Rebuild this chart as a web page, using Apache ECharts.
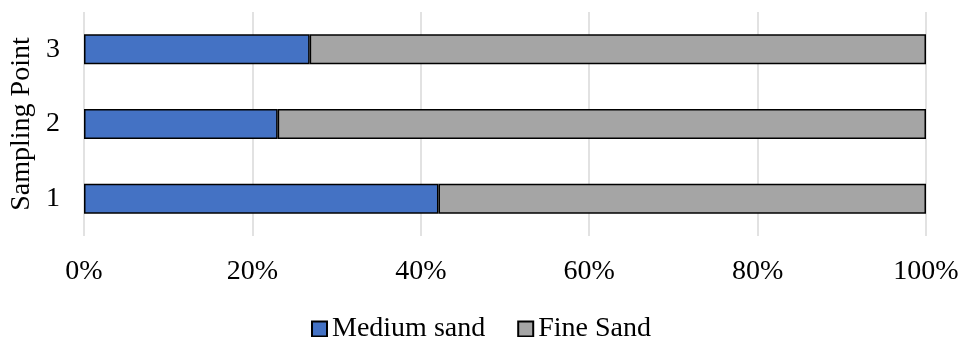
<!DOCTYPE html>
<html>
<head>
<meta charset="utf-8">
<script src="https://cdn.jsdelivr.net/npm/echarts@6/dist/echarts.min.js"></script>
<style>
  html, body { margin: 0; padding: 0; background: #fff; }
  #chart { width: 962px; height: 337px; }
</style>
</head>
<body>
<div id="chart"></div>
<script>
// Sampling points (bottom to top) and sand fractions in percent
const samplingPoints = ['1', '2', '3'];
const mediumSand = [42.1, 23.0, 26.8];
const fineSand = [57.9, 77.0, 73.2];
const xTicks = [0, 20, 40, 60, 80, 100];

const FONT = '"Liberation Serif", "Times New Roman", serif';

const chart = echarts.init(document.getElementById('chart'), null, { renderer: 'canvas' });

chart.setOption({
  animation: false,
  backgroundColor: '#ffffff',
  grid: { left: 84, right: 36, top: 12, bottom: 101, containLabel: false, outerBoundsMode: 'none' },
  legend: {
    bottom: -11,
    left: 'center',
    icon: 'rect',
    itemWidth: 15,
    itemHeight: 15,
    itemGap: 32,
    itemTextGap: 4,
    textStyle: { fontFamily: FONT, fontSize: 28, color: '#000' },
    data: ['Medium sand', 'Fine Sand']
  },
  xAxis: {
    type: 'value',
    min: xTicks[0],
    max: xTicks[xTicks.length - 1],
    interval: 20,
    axisLine: { show: false },
    axisTick: { show: false },
    splitLine: { show: true, lineStyle: { color: '#d9d9d9', width: 1.5 } },
    axisLabel: {
      fontFamily: FONT, fontSize: 28, color: '#000', margin: 22,
      formatter: v => v + '%'
    }
  },
  yAxis: {
    type: 'category',
    data: samplingPoints,
    name: 'Sampling Point',
    nameLocation: 'middle',
    nameRotate: 90,
    nameGap: 48,
    nameMoveOverlap: false,
    nameTextStyle: { fontFamily: FONT, fontSize: 28, color: '#000' },
    axisLine: { show: false },
    axisTick: { show: false },
    axisLabel: { fontFamily: FONT, fontSize: 28, color: '#000', margin: 24 }
  },
  series: [
    {
      name: 'Medium sand',
      type: 'bar',
      stack: 'total',
      data: mediumSand,
      barWidth: 30,
      itemStyle: { color: '#4472C4', borderColor: '#000', borderWidth: 1.5 }
    },
    {
      name: 'Fine Sand',
      type: 'bar',
      stack: 'total',
      data: fineSand,
      barWidth: 30,
      itemStyle: { color: '#A5A5A5', borderColor: '#000', borderWidth: 1.5 }
    }
  ]
});
</script>
</body>
</html>
